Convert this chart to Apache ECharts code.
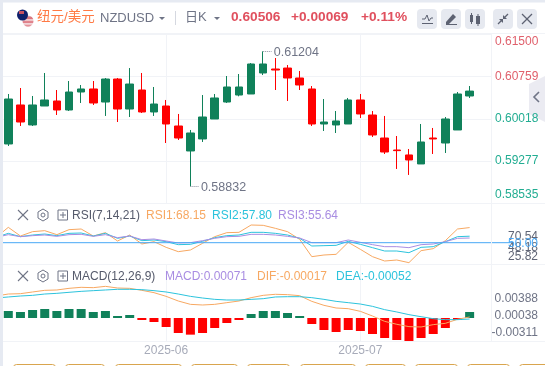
<!DOCTYPE html>
<html><head><meta charset="utf-8">
<style>html,body{margin:0;padding:0;background:#fff}#c{width:545px;height:366px}</style>
<script src="https://cdn.jsdelivr.net/npm/echarts@6/dist/echarts.min.js"></script>
</head><body><div id="c"></div>
<script>
const opens=[.59577,.60262,.59911,.60244,.60332,.60174,.60490,.60543,.60314,.60718,.60191,.60525,.60139,.60244,.59893,.59454,.59665,.60016,.60314,.60437,.60455,.60824,.60894,.60911,.60736,.60543,.59928,.59911,.59928,.60350,.60086,.59682,.59471,.59384,.59226,.59682,.59594,.59823,.60420];
const closes=[.60367,.59963,.60262,.60350,.60174,.60490,.60543,.60297,.60718,.60191,.60630,.60139,.60279,.59928,.59682,.59770,.60051,.60385,.60578,.60578,.60982,.60982,.60876,.60736,.60613,.59928,.59963,.59981,.60350,.60104,.59735,.59436,.59460,.59296,.59612,.59665,.60016,.60455,.60506];
const lows=[.59542,.59893,.59893,.60244,.60086,.60156,.60297,.60262,.60069,.59963,.60051,.60121,.60069,.59594,.59647,.58832,.59612,.60016,.60297,.60414,.60455,.60788,.60525,.60332,.60525,.59893,.59805,.59770,.59928,.60033,.59700,.59401,.59138,.59033,.59226,.59401,.59419,.59823,.60385];
const highs=[.60455,.60560,.60420,.60824,.60525,.60683,.60613,.60683,.60736,.60736,.60911,.60824,.60578,.60350,.60104,.59823,.60437,.60455,.60771,.60806,.60999,.61204,.61087,.60964,.60859,.60595,.60367,.60156,.60385,.60455,.60156,.60069,.59717,.59489,.59928,.59858,.60051,.60490,.60595];
const macdBars=[.00144,.00124,.00165,.00185,.00144,.00185,.00185,.00124,.00144,.00041,.00062,-.00041,-.00082,-.00185,-.00309,-.00343,-.00309,-.00206,-.00103,-.00041,.00082,.00144,.00144,.00103,.00041,-.00124,-.00247,-.00288,-.00247,-.00268,-.0033,-.00412,-.00453,-.00474,-.00412,-.0033,-.00206,-.00041,.00124];
// indicator lines start one session before the first visible candle
const rsi1=[56.44,68.44,58.04,63.24,64.44,59.64,65.64,66.44,58.04,62.04,52.04,59.24,48.44,51.24,44.44,39.24,41.24,49.24,57.24,62.04,62.44,71.24,70.84,67.24,63.24,54.04,33.24,35.24,36.04,50.44,42.04,33.24,28.04,29.24,26.04,40.44,42.84,52.44,66.44,68.15];
const rsi2=[56.44,61.24,57.24,59.24,60.44,58.44,61.24,61.64,58.04,61.24,55.24,58.04,52.44,53.24,51.24,47.64,48.04,51.64,56.04,58.44,59.24,62.44,62.44,61.24,59.24,55.24,46.04,46.44,46.84,51.64,48.04,44.04,40.04,40.04,38.04,44.44,45.24,51.24,57.24,57.80];
const rsi3=[56.44,59.64,57.24,58.44,59.24,57.64,59.64,60.04,57.64,59.64,56.04,58.04,53.64,54.44,52.04,49.64,50.04,52.44,55.24,57.24,57.64,60.04,60.04,59.24,57.64,55.64,50.04,50.04,50.04,53.24,50.44,47.64,45.24,45.24,44.04,47.64,48.44,51.24,55.24,55.64];
const dif=[.00453,.00494,.00501,.00536,.00570,.00577,.00611,.00632,.00625,.00652,.00618,.00611,.00570,.00522,.00446,.00350,.00281,.00268,.00281,.00316,.00350,.00419,.00467,.00488,.00481,.00460,.00343,.00261,.00206,.00192,.00137,.00041,-.00069,-.00130,-.00178,-.00185,-.00137,-.00110,-.00027,.00021];
const dea=[.00412,.00433,.00453,.00467,.00494,.00508,.00529,.00549,.00563,.00577,.00591,.00591,.00584,.00563,.00536,.00494,.00446,.00412,.00384,.00371,.00371,.00384,.00398,.00433,.00439,.00439,.00419,.00384,.00343,.00316,.00288,.00240,.00172,.00124,.00069,.00027,-.00014,-.00034,-.00034,-.00021];
const priceTicks=[.615,.60759,.60018,.59277,.58535];
const rsiTicks=[70.54,48.18,25.82];
const rsiLevel=50;
const macdTicks=[.00388,.00038,-.00311];
const dateIdx=[13,29];
const dateLabels=['2025-06','2025-07'];

const UP='#10815a',DOWN='#ff0000',ORANGE='#f7a862',CYAN='#2cc3dc',PURPLE='#a98de2',BLUE='#48a8f6',GRID='#f1f3f7',GRAY='#6f7486';
const FONT='"Liberation Sans","Noto Sans CJK SC",sans-serif';
const withX=a=>a.map((v,i)=>[i-1,v]);
const common={
  type:'value',min:-0.478,max:39.76,
  axisLine:{show:false},axisTick:{show:false,customValues:dateIdx},
  splitLine:{show:true,lineStyle:{color:GRID,width:1}},axisLabel:{show:false,customValues:dateIdx}
};
const lineS=(name,data,color,xi,yi)=>({name,type:'line',xAxisIndex:xi,yAxisIndex:yi,data:withX(data),showSymbol:false,symbol:'none',lineStyle:{color,width:1},itemStyle:{color},silent:true,z:3});
const T=(x,y,text,fill,extra)=>({type:'text',x,y,style:Object.assign({text,fill,font:'12px '+FONT,textVerticalAlign:'middle'},extra||{}),z:20});
const R=(x,y,w,h,fill,r,extra)=>({type:'rect',shape:{x,y,width:w,height:h,r:r||0},style:Object.assign({fill},extra||{}),z:10});
const L=(x1,y1,x2,y2,stroke,w)=>({type:'line',shape:{x1,y1,x2,y2},style:{stroke,lineWidth:w||1},z:11});

const g=[];
g.push(R(0,0,545,2.5,'#e6eaf2'),R(0,0,3,366,'#e6eaf2'));
g.push(L(3,33.5,545,33.5,GRID),L(3,203.5,545,203.5,GRID),L(3,264.5,545,264.5,GRID),L(3,341.5,545,341.5,GRID),L(491.5,34,491.5,341,GRID));
g.push({type:'circle',shape:{cx:28,cy:21,r:5.5},style:{fill:{type:'linear',x:0,y:0,x2:0,y2:1,colorStops:[{offset:0,color:'#e0b9bd'},{offset:.25,color:'#d9606c'},{offset:.4,color:'#f6e9ea'},{offset:.6,color:'#d9606c'},{offset:.75,color:'#f6e9ea'},{offset:1,color:'#d9606c'}]}},z:12});
g.push({type:'circle',shape:{cx:22.5,cy:15,r:5.5},style:{fill:'#10206b'},z:13});
g.push(Object.assign(R(19,11,5,3,'#c8505f'),{z:14}));
g.push(T(37,17,'纽元/美元','#ff7a45',{font:'13.5px '+FONT}));
g.push(T(100,18,'NZDUSD',GRAY,{font:'13px '+FONT}));
g.push({type:'polygon',shape:{points:[[159,17],[165,17],[162,20]]},style:{fill:GRAY},z:12});
g.push(L(175.5,11,175.5,25,'#d5d8e0'));
g.push(T(185,17,'日K',GRAY,{font:'13px '+FONT}));
g.push({type:'polygon',shape:{points:[[214,17],[220,17],[217,20]]},style:{fill:GRAY},z:12});
const RED='#e0505e';
g.push(T(231,17,'0.60506',RED,{font:'bold 13.7px '+FONT}));
g.push(T(291,17,'+0.00069',RED,{font:'bold 13.7px '+FONT}));
g.push(T(361,17,'+0.11%',RED,{font:'bold 13.7px '+FONT}));
[417,441,465,493,517].forEach(x=>g.push(R(x,9,20,20,'#e6e9f0',4)));
const IC='#5d6272';
g.push({type:'polyline',shape:{points:[[422,19],[425,19],[427,15],[429,21],[431,18],[433,18]]},style:{stroke:IC,fill:null,lineWidth:1},z:12},L(422,23.5,433,23.5,IC));
g.push({type:'polygon',shape:{points:[[446,22],[453,14],[456,17],[449,24],[446,24]]},style:{fill:IC},z:12},L(446,24.5,457,24.5,IC));
g.push(Object.assign(R(470,15,3,7,IC),{z:12}),L(471.5,13,471.5,24,IC),Object.assign(R(476,16,4,8,IC),{z:12}),L(478,14,478,26,IC));
g.push(L(498,24,502,20,IC,1.3),L(504,18,508,14,IC,1.3),{type:'polygon',shape:{points:[[499,19],[503,19],[503,23]]},style:{fill:IC},z:12},{type:'polygon',shape:{points:[[503,15],[503,19],[507,19]]},style:{fill:IC},z:12});
g.push(L(522,14,532,24,IC,1.2),L(532,14,522,24,IC,1.2));
g.push({type:'polygon',shape:{points:[[529,84],[545,76],[545,122],[529,114]]},style:{fill:'#ebebf2'},z:0});
g.push({type:'polyline',shape:{points:[[539,92],[534,97],[539,102]]},style:{stroke:GRAY,fill:null,lineWidth:1.6},z:12});
function head(y){
  g.push(L(18,y-5,28,y+5,GRAY,1.1),L(28,y-5,18,y+5,GRAY,1.1));
  g.push({type:'polygon',shape:{points:[[43,y-6],[48,y-3],[48,y+3],[43,y+6],[38,y+3],[38,y-3]]},style:{fill:null,stroke:GRAY,lineWidth:1},z:12});
  g.push({type:'circle',shape:{cx:43,cy:y,r:2},style:{fill:null,stroke:GRAY,lineWidth:1},z:12});
  g.push(R(58,y-5,9.5,10,null,0,{fill:null,stroke:GRAY,lineWidth:1}),L(60,y,66,y,GRAY),L(63,y-3,63,y+3,GRAY));
}
head(215);head(276);
g.push(T(72,216,'RSI(7,14,21)','#555a6b'),T(146,216,'RSI1:68.15',ORANGE),T(212,216,'RSI2:57.80',CYAN),T(278,216,'RSI3:55.64',PURPLE));
g.push(T(72,277,'MACD(12,26,9)','#555a6b'),T(165,277,'MACD:0.00071',PURPLE),T(257,277,'DIF:-0.00017',ORANGE),T(336,277,'DEA:-0.00052',CYAN));
// price labels pinned inside the panel at both ends
g.push(T(495,41.7,priceTicks[0].toFixed(5),'#e0606c'),T(495,194.3,priceTicks[4].toFixed(5),'#22ad92'));
// RSI scale labels are stacked by the terminal, not placed on the line scale
[236.7,247.3,256.7].forEach((y,i)=>g.push(T(538,y,rsiTicks[i].toFixed(2),'#5f6475',{textAlign:'right'})));
g.push(T(538,243.3,rsiLevel.toFixed(2),BLUE,{textAlign:'right'}));
[[13,42],[65,39],[115,66],[191,46],[247,42],[300,55],[365,40],[415,42],[467,42],[519,40]].forEach(b=>g.push(R(b[0]+.5,364.5,b[1],12,'#fff',3,{stroke:'#d9a54e',lineWidth:1})));

const chart=echarts.init(document.getElementById('c'),null,{renderer:'canvas'});
chart.setOption({
  animation:false,backgroundColor:'#fff',textStyle:{fontFamily:FONT},
  grid:[
    {left:2.5,top:34.5,width:488.5,height:168.8},
    {left:2.5,top:203,width:509.5,height:61},
    {left:2.5,top:264.7,width:488.5,height:76.6}
  ],
  xAxis:[
    Object.assign({},common,{gridIndex:0}),
    Object.assign({},common,{gridIndex:1,max:41.49,splitLine:{show:false}}),
    Object.assign({},common,{gridIndex:2,axisLabel:{show:true,customValues:dateIdx,color:'#a7abb9',fontSize:12,margin:3,formatter:v=>dateLabels[dateIdx.indexOf(v)]}})
  ],
  yAxis:[
    {type:'value',gridIndex:0,position:'right',min:.58535,max:.615,axisLine:{show:false},
      axisTick:{show:false,customValues:priceTicks},splitLine:{show:true,lineStyle:{color:GRID}},
      axisLabel:{customValues:priceTicks.slice(1,4),margin:4,fontSize:12,align:'left',
        formatter:v=>v.toFixed(5),color:v=>v>.605?'#e0606c':'#22ad92'}},
    {type:'value',gridIndex:1,position:'right',min:24.44,max:97.64,axisLine:{show:false},axisTick:{show:false},splitLine:{show:false},axisLabel:{show:false}},
    {type:'value',gridIndex:2,position:'right',min:-.0048,max:.01098,axisLine:{show:false},axisTick:{show:false},splitLine:{show:false},
      axisLabel:{customValues:macdTicks,margin:47,fontSize:12,align:'right',color:'#6f7486',formatter:v=>v.toFixed(5)}}
  ],
  series:[
    {type:'candlestick',xAxisIndex:0,yAxisIndex:0,barWidth:8,
      encode:{x:0,y:[1,2,3,4]},
      data:opens.map((o,i)=>[i,o,closes[i],lows[i],highs[i]]),
      itemStyle:{color:UP,color0:DOWN,borderColor:UP,borderColor0:DOWN,borderWidth:1},silent:true,
      markPoint:{symbol:'circle',symbolSize:1,itemStyle:{color:'rgba(0,0,0,0)'},silent:true,data:[
        {coord:[21,highs[21]],value:highs[21]},{coord:[15,lows[15]],value:lows[15]}],
        label:{show:true,position:'right',distance:10,offset:[0,1],color:GRAY,fontSize:12.5,formatter:p=>p.value.toFixed(5)}},
      markLine:{symbol:'none',silent:true,label:{show:false},lineStyle:{color:'#8a8f9e',type:'dotted',width:1},data:[
        [{coord:[21,highs[21]]},{coord:[21.7,highs[21]]}],[{coord:[15,lows[15]]},{coord:[15.7,lows[15]]}]]}
    },
    {name:'level',type:'line',xAxisIndex:1,yAxisIndex:1,data:[[-0.478,rsiLevel],[41.49,rsiLevel]],showSymbol:false,lineStyle:{color:BLUE,width:1},silent:true,z:5},
    lineS('RSI1',rsi1,ORANGE,1,1),lineS('RSI2',rsi2,CYAN,1,1),lineS('RSI3',rsi3,PURPLE,1,1),
    {type:'bar',xAxisIndex:2,yAxisIndex:2,barWidth:9,silent:true,
      data:macdBars.map((v,i)=>({value:[i,v],itemStyle:{color:v>=0?UP:DOWN}}))},
    lineS('DIF',dif,ORANGE,2,2),lineS('DEA',dea,CYAN,2,2)
  ],
  graphic:g
});
</script></body></html>
